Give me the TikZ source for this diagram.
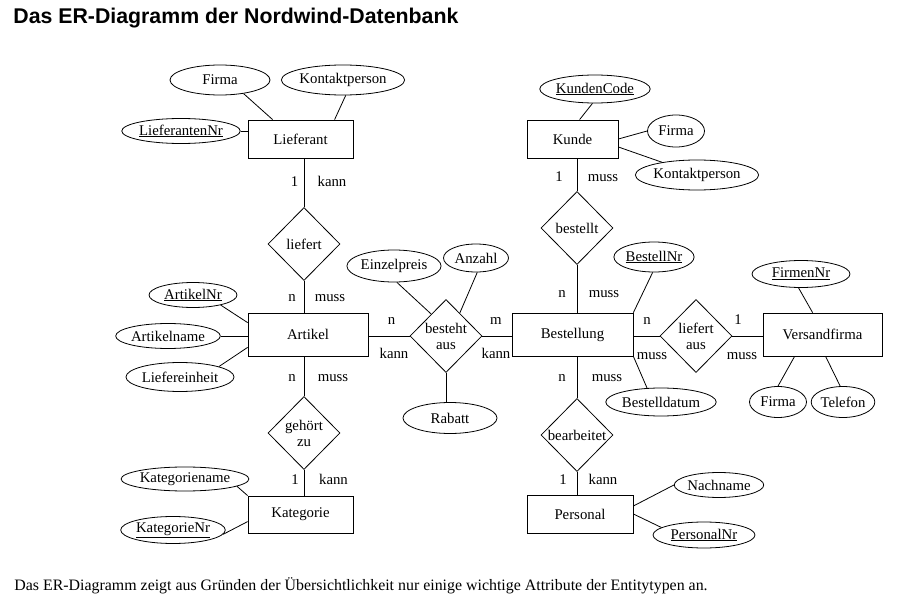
\documentclass[tikz,border=0pt]{standalone}
\usepackage{fontspec}
\setmainfont{Liberation Serif}
\newfontfamily\headfont{Liberation Sans}
\usetikzlibrary{shapes.geometric}

\begin{document}
\begin{tikzpicture}[
x=1pt, y=-1pt,
line width=0.8pt,
every node/.style={font=\fontsize{14.8}{16}\selectfont},
entity/.style={draw, rectangle, inner sep=0pt},
attr/.style={draw, ellipse, inner sep=0pt},
rel/.style={draw, diamond, inner sep=0pt, minimum width=72pt, minimum height=73pt},
card/.style={inner sep=0pt, anchor=base}
]
\useasboundingbox (0,0) rectangle (906,602);

\node[anchor=west, inner sep=0pt, font=\headfont\bfseries\fontsize{21.3}{24}\selectfont] (titel) at (13,18) {Das ER-Diagramm der Nordwind-Datenbank};
\node[anchor=west, inner sep=0pt, font=\fontsize{15.9}{18}\selectfont] (hinweis) at (14,586) {Das ER-Diagramm zeigt aus Gründen der Übersichtlichkeit nur einige wichtige Attribute der Entitytypen an.};

\node[entity, minimum width=105pt, minimum height=38pt] (lief) at (300.5,139) {Lieferant};
\node[entity, minimum width=91pt, minimum height=38pt] (kunde) at (572.5,139) {Kunde};
\node[entity, minimum width=120pt, minimum height=43pt] (art) at (308,334.5) {Artikel};
\node[entity, minimum width=121pt, minimum height=43pt] (best) at (572.5,334.5) {Bestellung};
\node[entity, minimum width=119pt, minimum height=43pt] (versand) at (822.5,334.5) {Versandfirma};
\node[entity, minimum width=105pt, minimum height=37pt] (kat) at (300.5,514.5) {Kategorie};
\node[entity, minimum width=106pt, minimum height=38pt] (pers) at (580,514) {Personal};

\node[rel] (liefert) at (304,244) {};
\node (liefertTxt) at (liefert) {liefert};
\node[rel] (bestellt) at (577,228) {};
\node (bestelltTxt) at (bestellt) {bestellt};
\node[rel] (bestehtaus) at (446,336) {};
\node[align=center] (bestehtausTxt) at (bestehtaus) {besteht\\aus};
\node[rel] (liefertaus) at (696,336) {};
\node[align=center] (liefertausTxt) at (liefertaus) {liefert\\aus};
\node[rel] (gehoert) at (304,433) {};
\node[align=center] (gehoertTxt) at (gehoert) {gehört\\zu};
\node[rel] (bearbeitet) at (577,435) {};
\node (bearbeitetTxt) at (bearbeitet) {bearbeitet};

\node[attr, minimum width=100pt, minimum height=30pt] (firmaL) at (220,80) {Firma};
\node[attr, minimum width=110pt, minimum height=30pt] (kontaktL) at (343,80) {Kontaktperson};
\node[attr, minimum width=108pt, minimum height=25pt] (liefNr) at (181,131) {\underline{LieferantenNr}};
\node[attr, minimum width=96pt, minimum height=28pt] (kCode) at (595,89) {\underline{KundenCode}};
\node[attr, minimum width=57pt, minimum height=32pt] (firmaK) at (676,131) {Firma};
\node[attr, minimum width=110pt, minimum height=30pt] (kontaktK) at (697,175) {Kontaktperson};
\node[attr, minimum width=88pt, minimum height=25pt] (artNr) at (193,295) {\underline{ArtikelNr}};
\node[attr, minimum width=100pt, minimum height=25pt] (artName) at (168,336) {Artikelname};
\node[attr, minimum width=100pt, minimum height=29pt] (liefEinh) at (180,377) {Liefereinheit};
\node[attr, minimum width=74pt, minimum height=32pt] (preis) at (394,266) {Einzelpreis};
\node[attr, minimum width=65pt, minimum height=28pt] (anzahl) at (476,258) {Anzahl};
\node[attr, minimum width=94pt, minimum height=31pt] (rabatt) at (450,418) {Rabatt};
\node[attr, minimum width=72pt, minimum height=30pt] (bestNr) at (654,257) {\underline{BestellNr}};
\node[attr, minimum width=88pt, minimum height=28pt] (bestDat) at (661,402) {Bestelldatum};
\node[attr, minimum width=98pt, minimum height=27pt] (firmenNr) at (801,274) {\underline{FirmenNr}};
\node[attr, minimum width=57pt, minimum height=31pt] (firmaV) at (778,402) {Firma};
\node[attr, minimum width=58pt, minimum height=31pt] (telefon) at (843,402) {Telefon};
\node[attr, minimum width=110pt, minimum height=24pt] (katName) at (185,479) {Kategoriename};
\node[attr, minimum width=100pt, minimum height=27pt] (katNr) at (173,530) {\underline{KategorieNr}};
\node[attr, minimum width=88pt, minimum height=25pt] (nachname) at (719,485) {Nachname};
\node[attr, minimum width=102pt, minimum height=26pt] (persNr) at (704,535) {\underline{PersonalNr}};

\node[card] (k1) at (294.5,186) {1};
\node[card] (k2) at (332,186) {kann};
\node[card] (k3) at (292,301) {n};
\node[card] (k4) at (330,301) {muss};
\node[card] (k5) at (559,182) {1};
\node[card] (k6) at (603,182) {muss};
\node[card] (k7) at (391.5,324) {n};
\node[card] (k8) at (394,358) {kann};
\node[card] (k9) at (496,324) {m};
\node[card] (k10) at (496,358) {kann};
\node[card] (k11) at (292,381) {n};
\node[card] (k12) at (333,381) {muss};
\node[card] (k13) at (295,484) {1};
\node[card] (k14) at (333.5,484) {kann};
\node[card] (k15) at (562,297) {n};
\node[card] (k16) at (604,297) {muss};
\node[card] (k17) at (647,324) {n};
\node[card] (k18) at (652,359) {muss};
\node[card] (k19) at (738,324) {1};
\node[card] (k20) at (742,359) {muss};
\node[card] (k21) at (562,381) {n};
\node[card] (k22) at (607,381) {muss};
\node[card] (k23) at (563,484) {1};
\node[card] (k24) at (603,484) {kann};

\draw (liefert.north |- lief.south) -- (liefert.north);
\draw (liefert.south) -- (liefert.south |- art.north);
\draw (bestellt.north |- kunde.south) -- (bestellt.north);
\draw (bestellt.south) -- (bestellt.south |- best.north);
\draw (bestehtaus.west -| art.east) -- (bestehtaus.west);
\draw (bestehtaus.east) -- (bestehtaus.east -| best.west);
\draw (liefertaus.west -| best.east) -- (liefertaus.west);
\draw (liefertaus.east) -- (liefertaus.east -| versand.west);
\draw (gehoert.north |- art.south) -- (gehoert.north);
\draw (gehoert.south) -- (gehoert.south |- kat.north);
\draw (bearbeitet.north |- best.south) -- (bearbeitet.north);
\draw (bearbeitet.south) -- (bearbeitet.south |- pers.north);

\draw (firmaL.-30) -- ([xshift=25pt]lief.north west);
\draw (kontaktL.-80) -- ([xshift=87pt]lief.north west);
\draw (liefNr.east) -- (liefNr.east -| lief.west);
\draw (kCode.-100) -- ([xshift=53pt]kunde.north west);
\draw (firmaK.west) -- (kunde.east);
\draw (kontaktK.160) -- ([yshift=-8pt]kunde.east);
\draw (artNr.-20) -- ([yshift=-10pt]art.north west);
\draw (artName.east) -- (artName.east -| art.west);
\draw (liefEinh.15) -- ([yshift=9pt]art.south west);
\draw (preis.-80) -- (bestehtaus.124);
\draw (anzahl.-85) -- (bestehtaus.59);
\draw (bestehtaus.south) -- (bestehtaus.south |- rabatt.north);
\draw (bestNr.-95) -- (best.north east);
\draw (bestDat.135) -- (best.south east);
\draw (firmenNr.-100) -- ([xshift=50pt]versand.north west);
\draw (firmaV.north) -- ([xshift=32pt]versand.south west);
\draw (telefon.100) -- ([xshift=63pt]versand.south west);
\draw (katName.-8) -- (kat.north west);
\draw (katNr.-5) -- ([yshift=-26pt]kat.north west);
\draw (nachname.west) -- ([yshift=8pt]pers.east);
\draw (persNr.170) -- (pers.east);
\end{tikzpicture}
\end{document}
